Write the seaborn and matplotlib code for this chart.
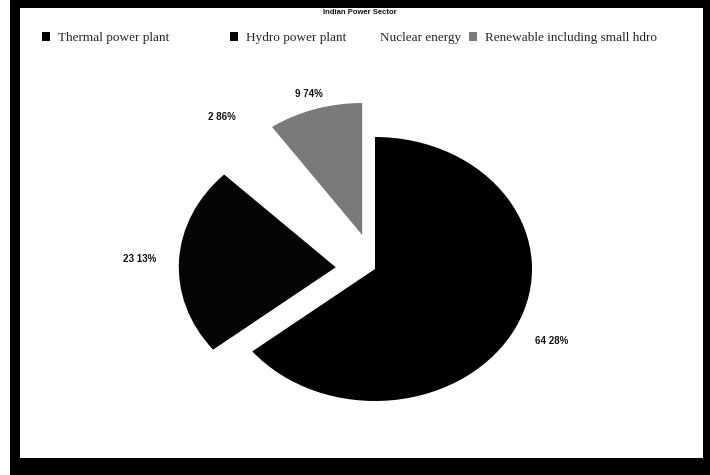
import numpy as np
import matplotlib
matplotlib.use("Agg")
import matplotlib.pyplot as plt
from matplotlib.patches import Rectangle, Patch
import seaborn as sns

# ---- data ----
categories = ["Thermal power plant", "Hydro power plant", "Nuclear energy",
              "Renewable including small hdro"]
shares = [64.28, 23.13, 2.86, 9.74]
pct_labels = ["64 28%", "23 13%", "2 86%", "9 74%"]
title = "Indian Power Sector"

# ---- style ----
sns.set_theme(style="white")
colors = ["#000000", "#050505", "#ffffff", "#7a7a7a"]
explode = [0.0, 0.25, 0.25, 0.27]
label_dist = [1.25, 1.25, 1.26, 1.12]
legend_x = [42, 230, 364, 469]          # pixel position of each legend entry

W, H = 710, 475
fig = plt.figure(figsize=(W / 100, H / 100), dpi=100, facecolor="white")

# scanned frame
fig.patches.append(Rectangle((10 / W, 0), 1 - 10 / W, 1, transform=fig.transFigure,
                             facecolor="black", edgecolor="none", zorder=-2))
fig.patches.append(Rectangle((20 / W, 17 / H), (703 - 20) / W, (467 - 17) / H,
                             transform=fig.transFigure, facecolor="white",
                             edgecolor="none", zorder=-1))

ax = fig.add_axes([0, 0, 1, 1], zorder=2)
ax.patch.set_alpha(0)
wedges, _ = ax.pie(shares, colors=colors, explode=explode, startangle=90,
                   counterclock=False, radius=1.0,
                   wedgeprops=dict(linewidth=0))

# ellipse geometry as in the scanned chart
cx, cy = 375, H - 269
rx, ry = 157, 132
ax.set_aspect("auto")
ax.set_xlim(-cx / rx, (W - cx) / rx)
ax.set_ylim(-cy / ry, (H - cy) / ry)
ax.axis("off")

# percentage labels outside slices
for w, lab, d in zip(wedges, pct_labels, label_dist):
    ang = np.deg2rad((w.theta1 + w.theta2) / 2)
    x0, y0 = w.center
    ax.text(x0 + d * np.cos(ang), y0 + d * np.sin(ang), lab,
            ha="center", va="center", fontsize=7, color="#111111",
            family="Liberation Sans", fontweight="bold")

# title
fig.text(360 / W, 1 - 13 / H, title, ha="center", va="center", fontsize=5.5,
         fontweight="bold", family="Liberation Sans", color="#111111", zorder=3)

# legend entries (one per category, placed as in the scan)
for c, lab, lx in zip(colors, categories, legend_x):
    leg = fig.legend([Patch(facecolor=c, edgecolor="none")], [lab],
                     loc="center left", bbox_to_anchor=(lx / W, 1 - 38 / H),
                     frameon=False, handlelength=0.6, handleheight=0.6,
                     handletextpad=0.6, borderpad=0, borderaxespad=0,
                     prop={"family": "Liberation Serif", "size": 9.5})
    leg.set_zorder(3)

fig.savefig("out.png", dpi=100, facecolor=fig.get_facecolor())
